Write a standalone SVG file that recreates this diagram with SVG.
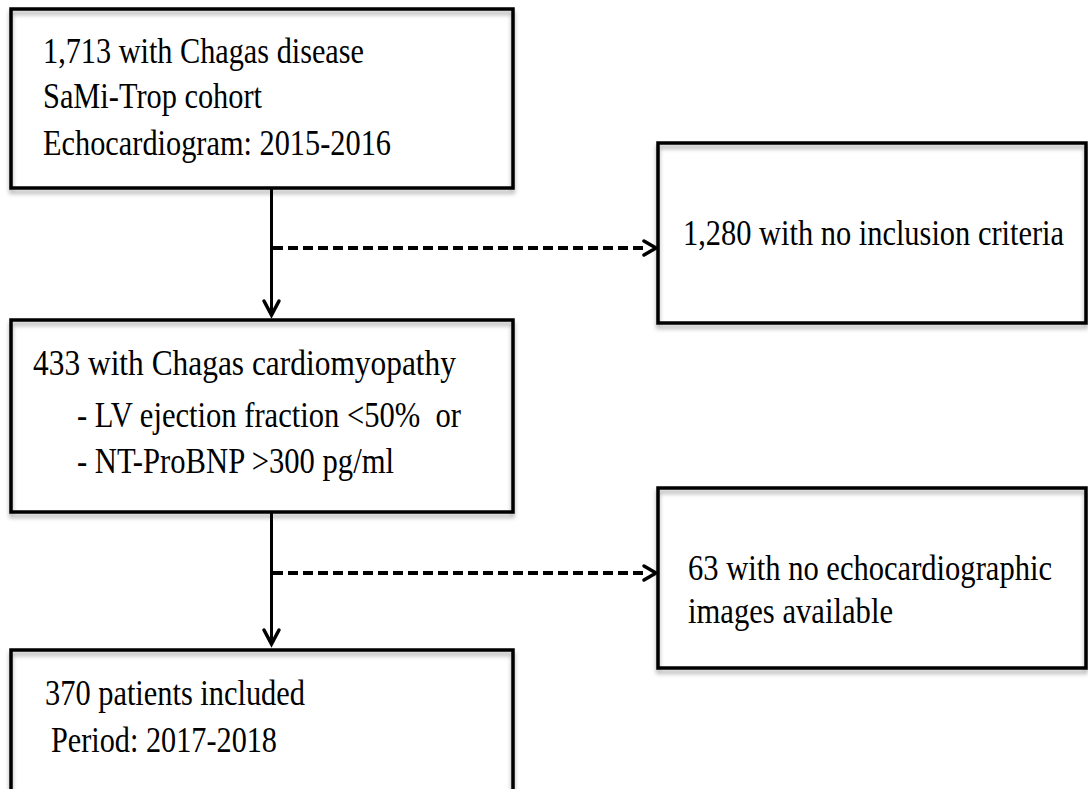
<svg xmlns="http://www.w3.org/2000/svg" width="1088" height="789" viewBox="0 0 1088 789">
  <style>
    .box { fill: none; stroke: #000; stroke-width: 3.5; filter: url(#sh); }
    .solid { fill: none; stroke: #000; stroke-width: 3; }
    .dash { fill: none; stroke: #000; stroke-width: 4; stroke-dasharray: 10 5; }
    .head { fill: none; stroke: #000; stroke-width: 3.5; stroke-linecap: round; stroke-linejoin: miter; }
  </style>
  <defs>
    <filter id="sh" x="-5%" y="-5%" width="110%" height="115%">
      <feDropShadow dx="0" dy="4" stdDeviation="2" flood-color="#000" flood-opacity="0.3"/>
    </filter>
  </defs>
  <rect x="0" y="0" width="1088" height="789" fill="#fff"/>

  <g id="connectors">
    <line class="solid" x1="271.5" y1="188" x2="271.5" y2="315"/>
    <polyline class="head" points="264,301 271.5,315 279,301"/>
    <line class="dash" x1="273" y1="248" x2="645" y2="248"/>
    <polyline class="head" points="644,241 656,248 644,255"/>

    <line class="solid" x1="271.5" y1="512" x2="271.5" y2="644"/>
    <polyline class="head" points="264,630 271.5,644 279,630"/>
    <line class="dash" x1="273" y1="573" x2="645" y2="573"/>
    <polyline class="head" points="644,566 656,573 644,580"/>
  </g>

  <g font-family="Liberation Serif, DejaVu Serif, serif" font-size="36" fill="#000">
  <g id="node-cohort">
    <rect class="box" x="11" y="9" width="502" height="179"/>
    <text x="43" y="63" textLength="321" lengthAdjust="spacingAndGlyphs">1,713 with Chagas disease</text>
    <text x="43" y="108" textLength="219" lengthAdjust="spacingAndGlyphs">SaMi-Trop cohort</text>
    <text x="43" y="155" textLength="348" lengthAdjust="spacingAndGlyphs">Echocardiogram: 2015-2016</text>
  </g>

  <g id="node-excluded1">
    <rect class="box" x="658" y="143" width="428" height="180"/>
    <text transform="translate(683,245) scale(1,1.16)" x="0" y="0" font-size="31" textLength="381" lengthAdjust="spacingAndGlyphs">1,280 with no inclusion criteria</text>
  </g>

  <g id="node-cardiomyopathy">
    <rect class="box" x="11" y="320" width="502" height="192"/>
    <text x="33" y="375" textLength="423" lengthAdjust="spacingAndGlyphs">433 with Chagas cardiomyopathy</text>
    <text x="77" y="427" textLength="384" lengthAdjust="spacingAndGlyphs">- LV ejection fraction &lt;50%&#160; or</text>
    <text x="77" y="473" textLength="317" lengthAdjust="spacingAndGlyphs">- NT-ProBNP &gt;300 pg/ml</text>
  </g>

  <g id="node-excluded2">
    <rect class="box" x="658" y="488" width="428" height="180"/>
    <text transform="translate(688,580) scale(1,1.16)" x="0" y="0" font-size="31" textLength="364" lengthAdjust="spacingAndGlyphs">63 with no echocardiographic</text>
    <text x="688" y="623" textLength="205" lengthAdjust="spacingAndGlyphs">images available</text>
  </g>

  <g id="node-included">
    <rect class="box" x="11" y="650" width="502" height="170"/>
    <text x="45" y="705" textLength="260" lengthAdjust="spacingAndGlyphs">370 patients included</text>
    <text x="51" y="752" textLength="226" lengthAdjust="spacingAndGlyphs">Period: 2017-2018</text>
  </g>
  </g>
</svg>
